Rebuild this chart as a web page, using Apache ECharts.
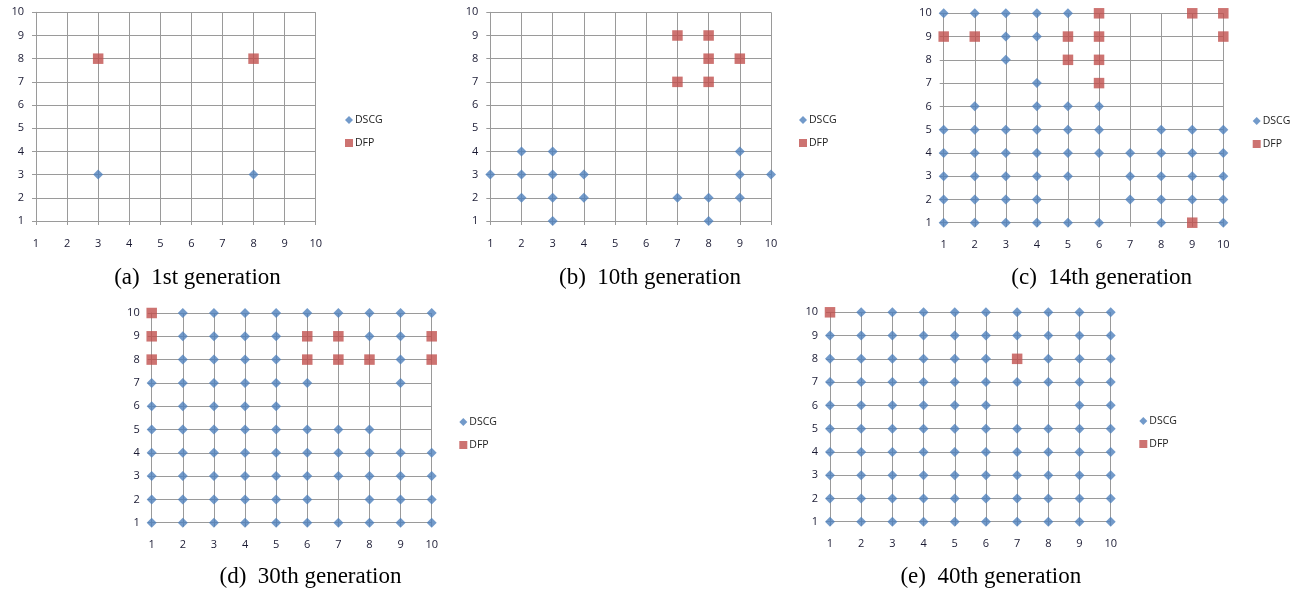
<!DOCTYPE html>
<html><head><meta charset="utf-8">
<script src="https://cdn.jsdelivr.net/npm/echarts@6/dist/echarts.min.js"></script>
<style>html,body{margin:0;padding:0;background:#fff;}#c{width:1302px;height:591px;}</style>
</head><body><div id="c"></div>
<script>
// Tick values shared by both axes of every panel
const tickValues = [1, 2, 3, 4, 5, 6, 7, 8, 9, 10];
const seriesNames = ['DSCG', 'DFP'];
const captions = [
  '(a)\u00a0\u00a01st generation',
  '(b)\u00a0\u00a010th generation',
  '(c)\u00a0\u00a014th generation',
  '(d)\u00a0\u00a030th generation',
  '(e)\u00a0\u00a040th generation'
];

// Each array: row index 0 => y = 1 ... index 9 => y = 10; entries are the x positions occupied.
const gen1_DSCG = [[], [], [3, 8], [], [], [], [], [], [], []];
const gen1_DFP  = [[], [], [], [], [], [], [], [3, 8], [], []];

const gen10_DSCG = [[3, 8], [2, 3, 4, 7, 8, 9], [1, 2, 3, 4, 9, 10], [2, 3, 9], [], [], [], [], [], []];
const gen10_DFP  = [[], [], [], [], [], [], [7, 8], [8, 9], [7, 8], []];

const gen14_DSCG = [
  [1, 2, 3, 4, 5, 6, 8, 10],
  [1, 2, 3, 4, 7, 8, 9, 10],
  [1, 2, 3, 4, 5, 7, 8, 9, 10],
  [1, 2, 3, 4, 5, 6, 7, 8, 9, 10],
  [1, 2, 3, 4, 5, 6, 8, 9, 10],
  [2, 4, 5, 6],
  [4],
  [3],
  [3, 4],
  [1, 2, 3, 4, 5]
];
const gen14_DFP = [[9], [], [], [], [], [], [6], [5, 6], [1, 2, 5, 6, 10], [6, 9, 10]];

const gen30_DSCG = [
  [1, 2, 3, 4, 5, 6, 7, 8, 9, 10],
  [1, 2, 3, 4, 5, 6, 8, 9, 10],
  [1, 2, 3, 4, 5, 6, 7, 8, 9, 10],
  [1, 2, 3, 4, 5, 6, 7, 8, 9, 10],
  [1, 2, 3, 4, 5, 6, 7, 8],
  [1, 2, 3, 4, 5],
  [1, 2, 3, 4, 5, 6, 9],
  [2, 3, 4, 5, 9],
  [2, 3, 4, 5, 8, 9],
  [2, 3, 4, 5, 6, 7, 8, 9, 10]
];
const gen30_DFP = [[], [], [], [], [], [], [], [1, 6, 7, 8, 10], [1, 6, 7, 10], [1]];

const gen40_DSCG = [
  [1, 2, 3, 4, 5, 6, 7, 8, 9, 10],
  [1, 2, 3, 4, 5, 6, 7, 8, 9, 10],
  [1, 2, 3, 4, 5, 6, 7, 8, 9, 10],
  [1, 2, 3, 4, 5, 6, 7, 8, 9, 10],
  [1, 2, 3, 4, 5, 6, 7, 8, 9, 10],
  [1, 2, 3, 4, 5, 6, 9, 10],
  [1, 2, 3, 4, 5, 6, 7, 8, 9, 10],
  [1, 2, 3, 4, 5, 6, 8, 9, 10],
  [1, 2, 3, 4, 5, 6, 7, 8, 9, 10],
  [2, 3, 4, 5, 6, 7, 8, 9, 10]
];
const gen40_DFP = [[], [], [], [], [], [], [], [7], [], [1]];

const panelData = [
  [gen1_DSCG, gen1_DFP],
  [gen10_DSCG, gen10_DFP],
  [gen14_DSCG, gen14_DFP],
  [gen30_DSCG, gen30_DFP],
  [gen40_DSCG, gen40_DFP]
];

// Layout (pixels)
const layout = [
  { grid: { left: 36,    top: 12.3, width: 279.7, height: 208.7 }, legend: [345, 114.5], cap: [197.5, 278] },
  { grid: { left: 490.3, top: 12.3, width: 280.7, height: 208.7 }, legend: [799, 114.5], cap: [650, 278] },
  { grid: { left: 943.7, top: 13.3, width: 279.6, height: 209.4 }, legend: [1252.7, 115.5], cap: [1101.7, 278] },
  { grid: { left: 151.7, top: 313,  width: 280,   height: 209.7 }, legend: [459.3, 416.5], cap: [310.5, 577] },
  { grid: { left: 830,   top: 312.3, width: 280.7, height: 209.4 }, legend: [1139.3, 415.5], cap: [990.8, 577] }
];

function toPoints(rows) {
  const pts = [];
  rows.forEach((xs, i) => xs.forEach(x => pts.push([x, tickValues[i]])));
  return pts;
}

const gridColor = '#9a9a9a';
const labelStyle = { color: '#1a1a33', fontSize: 11, fontFamily: 'Open Sans' };
const grids = [], xAxes = [], yAxes = [], series = [], legends = [], graphics = [];

layout.forEach((p, i) => {
  grids.push(Object.assign({ outerBoundsMode: 'none', containLabel: false }, p.grid));
  const axisBase = {
    type: 'value', gridIndex: i, min: tickValues[0], max: tickValues[tickValues.length - 1], interval: 1,
    axisLine: { show: true, lineStyle: { color: gridColor, width: 1 } },
    axisTick: { show: true, length: 4, lineStyle: { color: gridColor, width: 1 } },
    splitLine: { show: true, lineStyle: { color: gridColor, width: 1 } },
  };
  xAxes.push(Object.assign({}, axisBase, { axisLabel: Object.assign({ margin: 17 }, labelStyle) }));
  yAxes.push(Object.assign({}, axisBase, { axisLabel: Object.assign({ margin: 12 }, labelStyle) }));
  series.push({
    name: seriesNames[0], type: 'scatter', xAxisIndex: i, yAxisIndex: i,
    symbol: 'diamond', symbolSize: 10, itemStyle: { color: '#4f81bd' },
    data: toPoints(panelData[i][0]), emphasis: { disabled: true }
  });
  series.push({
    name: seriesNames[1], type: 'scatter', xAxisIndex: i, yAxisIndex: i,
    symbol: 'rect', symbolSize: 10.5, itemStyle: { color: '#c0504d' },
    data: toPoints(panelData[i][1]), emphasis: { disabled: true }
  });
  legends.push({
    orient: 'vertical', left: p.legend[0], top: p.legend[1], padding: 0,
    itemWidth: 8, itemHeight: 8, itemGap: 12, selectedMode: false,
    textStyle: { fontSize: 10.5, fontFamily: 'Open Sans', color: '#222', padding: [0, 0, 0, -3] },
    data: [{ name: seriesNames[0], icon: 'diamond' }, { name: seriesNames[1], icon: 'rect' }]
  });
  graphics.push({
    type: 'text', x: p.cap[0], y: p.cap[1],
    style: { text: captions[i], fontFamily: 'Liberation Serif', fontSize: 23, fill: '#000', align: 'center', verticalAlign: 'middle' }
  });
});

const chart = echarts.init(document.getElementById('c'), null, { renderer: 'canvas' });
chart.setOption({
  animation: false,
  backgroundColor: '#fff',
  grid: grids, xAxis: xAxes, yAxis: yAxes, series: series, legend: legends,
  graphic: graphics
});
</script>
</body></html>
